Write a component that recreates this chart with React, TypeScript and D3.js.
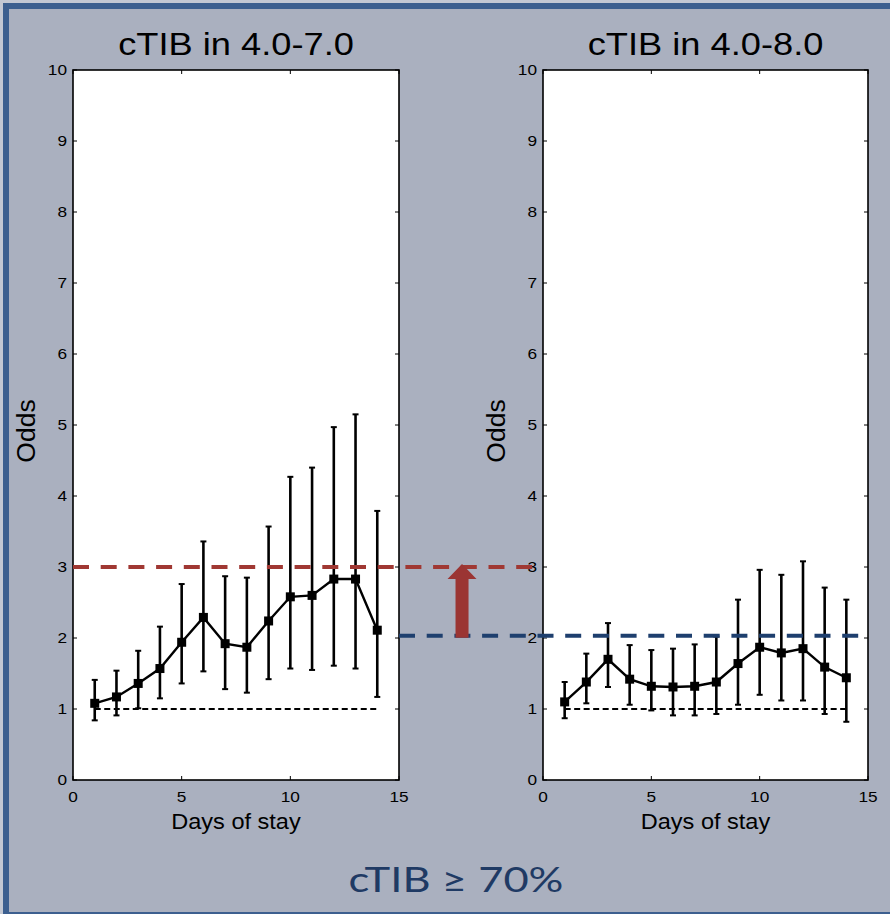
import React from "react";
import * as d3 from "d3";

// Days of hospital stay shown on the x axis
const days = [1, 2, 3, 4, 5, 6, 7, 8, 9, 10, 11, 12, 13, 14];

// cTIB in 4.0-7.0: odds with lower/upper confidence bounds
const oddsA = [1.08, 1.17, 1.36, 1.57, 1.94, 2.29, 1.92, 1.87, 2.24, 2.58, 2.6, 2.83, 2.83, 2.11];
const lowA = [0.84, 0.91, 1.01, 1.15, 1.36, 1.53, 1.28, 1.23, 1.42, 1.57, 1.55, 1.61, 1.57, 1.17];
const highA = [1.41, 1.54, 1.82, 2.16, 2.76, 3.36, 2.87, 2.85, 3.57, 4.27, 4.4, 4.97, 5.15, 3.79];

// cTIB in 4.0-8.0: odds with lower/upper confidence bounds
const oddsB = [1.1, 1.38, 1.7, 1.42, 1.32, 1.31, 1.32, 1.38, 1.64, 1.87, 1.79, 1.85, 1.59, 1.44];
const lowB = [0.87, 1.08, 1.31, 1.06, 0.98, 0.91, 0.91, 0.93, 1.06, 1.2, 1.12, 1.12, 0.93, 0.82];
const highB = [1.38, 1.78, 2.21, 1.9, 1.83, 1.85, 1.91, 2.02, 2.54, 2.96, 2.89, 3.08, 2.71, 2.54];

const titles = ["cTIB in 4.0-7.0", "cTIB in 4.0-8.0"];
const yTicks = [0, 1, 2, 3, 4, 5, 6, 7, 8, 9, 10];
const xTicks = [0, 5, 10, 15];
const nullOdds = 1;
const peakA = 3.0; // plateau level of the 4.0-7.0 range
const peakB = 2.03; // plateau level of the 4.0-8.0 range
const caption = "cTIB \u2265 70%";

const FONT = "'Liberation Sans', Arial, Helvetica, sans-serif";
const BG = "#AAB0BF";
const FRAME = "#3C5F8F";
const RED = "#A03833";
const ARROW = "#9B3533";
const NAVY = "#1E3F6E";

const W = 890;
const H = 914;
const yTop = 70;
const yBot = 780;

const y = d3.scaleLinear().domain([0, 10]).range([yBot, yTop]);
const xA = d3.scaleLinear().domain([0, 15]).range([73, 399]);
const xB = d3.scaleLinear().domain([0, 15]).range([543, 868]);

type Series = { odds: number[]; low: number[]; high: number[] };

function SText(props: {
  x: number;
  y: number;
  size: number;
  sx?: number;
  anchor?: string;
  rotate?: number;
  dy?: string;
  fill?: string;
  children: React.ReactNode;
}) {
  const { x, y: yy, size, sx = 1, anchor = "middle", rotate = 0, dy, fill = "#000" } = props;
  return (
    <text
      transform={`translate(${x},${yy}) rotate(${rotate}) scale(${sx},1)`}
      fontFamily={FONT}
      fontSize={size}
      textAnchor={anchor}
      dy={dy}
      fill={fill}
    >
      {props.children}
    </text>
  );
}

function Panel({ x, title, s }: { x: d3.ScaleLinear<number, number>; title: string; s: Series }) {
  const [x0, x1] = x.range();
  const cx = (x0 + x1) / 2;
  const line = d3
    .line<number>()
    .x((_, i) => x(days[i]))
    .y((v) => y(v));
  const tickLen = 4;
  return (
    <g>
      <rect x={x0} y={yTop} width={x1 - x0} height={yBot - yTop} fill="#fff" />
      {/* inward ticks on all four sides */}
      {yTicks.map((t) => (
        <g key={"yt" + t} stroke="#000" strokeWidth={1}>
          <line x1={x0} x2={x0 + tickLen} y1={y(t)} y2={y(t)} />
          <line x1={x1} x2={x1 - tickLen} y1={y(t)} y2={y(t)} />
        </g>
      ))}
      {xTicks.map((t) => (
        <g key={"xt" + t} stroke="#000" strokeWidth={1}>
          <line x1={x(t)} x2={x(t)} y1={yBot} y2={yBot - tickLen} />
          <line x1={x(t)} x2={x(t)} y1={yTop} y2={yTop + tickLen} />
        </g>
      ))}
      <rect x={x0} y={yTop} width={x1 - x0} height={yBot - yTop} fill="none" stroke="#000" strokeWidth={1.6} />
      {yTicks.map((t) => (
        <SText key={"yl" + t} x={x0 - 6} y={y(t)} size={15} sx={1.15} anchor="end" dy="0.36em">
          {t}
        </SText>
      ))}
      {xTicks.map((t) => (
        <SText key={"xl" + t} x={x(t)} y={yBot + 22} size={15} sx={1.15}>
          {t}
        </SText>
      ))}
      <SText x={cx} y={55} size={31} sx={1.17}>
        {title}
      </SText>
      <SText x={cx} y={829} size={22} sx={1.07}>
        Days of stay
      </SText>
      <SText x={x0 - 38} y={431} size={25} sx={1.06} rotate={-90}>
        Odds
      </SText>

      {/* reference line at odds = 1 */}
      <line
        x1={x(days[0])}
        x2={x(days[days.length - 1])}
        y1={y(nullOdds)}
        y2={y(nullOdds)}
        stroke="#000"
        strokeWidth={2}
        strokeDasharray="6,3.5"
      />
      {/* confidence intervals */}
      {days.map((d, i) => (
        <g key={"eb" + d} stroke="#000">
          <line x1={x(d)} x2={x(d)} y1={y(s.low[i])} y2={y(s.high[i])} strokeWidth={2.6} />
          <line x1={x(d) - 3} x2={x(d) + 3} y1={y(s.low[i])} y2={y(s.low[i])} strokeWidth={2} />
          <line x1={x(d) - 3} x2={x(d) + 3} y1={y(s.high[i])} y2={y(s.high[i])} strokeWidth={2} />
        </g>
      ))}
      <path d={line(s.odds) || ""} fill="none" stroke="#000" strokeWidth={2.4} />
      {days.map((d, i) => (
        <rect key={"m" + d} x={x(d) - 4.5} y={y(s.odds[i]) - 4.5} width={9} height={9} fill="#000" />
      ))}
    </g>
  );
}

export default function App() {
  const arrowX = xA(17.9);
  const shaftW = 13;
  const headW = 29;
  const headH = 15;
  const tipY = y(peakA) - 3;
  const baseY = y(peakB) + 2;
  return (
    <svg
      width={W}
      height={H}
      viewBox={`0 0 ${W} ${H}`}
      style={{ position: "absolute", left: 0, top: 0, display: "block" }}
    >
      <rect x={0} y={0} width={W} height={H} fill="#C3C8D3" />
      <rect x={6} y={6} width={W + 20} height={H - 5} fill={BG} stroke={FRAME} strokeWidth={6} />

      <Panel x={xA} title={titles[0]} s={{ odds: oddsA, low: lowA, high: highA }} />
      <Panel x={xB} title={titles[1]} s={{ odds: oddsB, low: lowB, high: highB }} />

      {/* plateau levels of both ranges */}
      <line
        x1={xA(0)}
        x2={xB(0) - 10}
        y1={y(peakA)}
        y2={y(peakA)}
        stroke={RED}
        strokeWidth={4}
        strokeDasharray="16,11.7"
      />
      <line
        x1={xA(15)}
        x2={xB(14.8)}
        y1={y(peakB)}
        y2={y(peakB)}
        stroke={NAVY}
        strokeWidth={4}
        strokeDasharray="16,11.7"
      />

      {/* arrow from the lower to the higher plateau */}
      <path
        d={`M${arrowX - shaftW / 2},${baseY} L${arrowX - shaftW / 2},${tipY + headH} L${arrowX - headW / 2},${tipY + headH} L${arrowX},${tipY} L${arrowX + headW / 2},${tipY + headH} L${arrowX + shaftW / 2},${tipY + headH} L${arrowX + shaftW / 2},${baseY} Z`}
        fill={ARROW}
      />

      <text
        x={456}
        y={892}
        fontFamily="Lato, 'Open Sans', sans-serif"
        fontSize={34}
        textAnchor="middle"
        textLength={215}
        lengthAdjust="spacingAndGlyphs"
        fill="#1F3A64"
      >
        {caption}
      </text>
    </svg>
  );
}
